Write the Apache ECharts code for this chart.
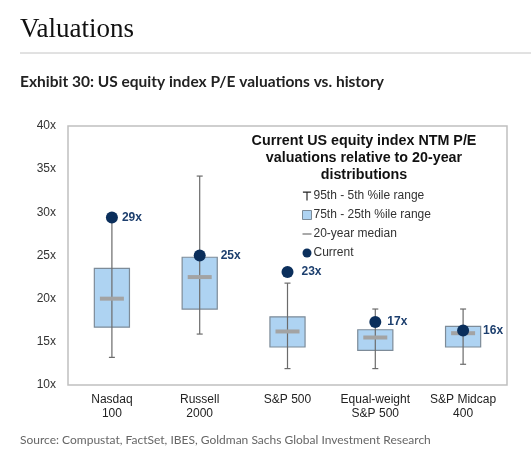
<!DOCTYPE html>
<html>
<head>
<meta charset="utf-8">
<script src="https://cdn.jsdelivr.net/npm/echarts@6/dist/echarts.min.js"></script>
<style>
  html, body { margin: 0; padding: 0; background: #fff; }
  #chart { width: 531px; height: 459px; }
</style>
</head>
<body>
<div id="chart"></div>
<script>
// 指数名称
var categories = ["Nasdaq\n100", "Russell\n2000", "S&P 500", "Equal-weight\nS&P 500", "S&P Midcap\n400"];
// 95th - 5th 分位
var p5 = [13.2, 15.9, 11.9, 11.9, 12.4];
var p95 = [29.2, 34.2, 21.8, 18.8, 18.8];
// 25th - 75th 分位
var p25 = [16.7, 18.8, 14.4, 14.0, 14.4];
var p75 = [23.5, 24.8, 17.9, 16.4, 16.8];
// 20年中位数
var median = [20.0, 22.5, 16.2, 15.5, 16.0];
// 当前值
var current = [29.4, 25.0, 23.1, 17.3, 16.3];
var yTicks = [10, 15, 20, 25, 30, 35, 40];

var boxFill = "#aed3f2";
var boxBorder = "#7d8b98";
var navy = "#0b2f5c";
var font = "Liberation Sans, Arial, sans-serif";
// 标签与圆点的距离(避开箱体)
var labelGap = [4, 15, 8, 6, 14];

var myChart = echarts.init(document.getElementById("chart"));

var whiskerData = [], boxData = [], medianData = [], currentData = [];
for (var i = 0; i < categories.length; i++) {
    whiskerData.push([i, p5[i], p95[i]]);
    boxData.push([i, p25[i], p75[i]]);
    medianData.push([i, median[i]]);
    currentData.push({ value: [i, current[i]], label: { distance: labelGap[i] } });
}

var option = {
    animation: false,
    textStyle: { fontFamily: font },
    title: [{
        text: "Valuations",
        left: 20, top: 16, padding: 0,
        textStyle: { fontFamily: "Liberation Serif, serif", fontSize: 27, fontWeight: "normal", color: "#111" }
    }, {
        text: "Exhibit 30: US equity index P/E valuations vs. history",
        left: 20, top: 74, padding: 0,
        textStyle: { fontFamily: "Lato, sans-serif", fontSize: 15.5, fontWeight: "bold", color: "#222" }
    }, {
        text: "Current US equity index NTM P/E\nvaluations relative to 20-year\ndistributions",
        left: 364, top: 133, padding: 0, textAlign: "center",
        textStyle: { fontFamily: font, fontSize: 14.3, fontWeight: "bold", color: "#111", lineHeight: 16.8 }
    }, {
        text: "Source: Compustat, FactSet, IBES, Goldman Sachs Global Investment Research",
        left: 20, top: 434, padding: 0,
        textStyle: { fontFamily: "Lato, sans-serif", fontSize: 12, fontWeight: "normal", color: "#666" }
    }],
    graphic: [{
        type: "line",
        shape: { x1: 20, y1: 53, x2: 531, y2: 53 },
        style: { stroke: "#c4c4c4", lineWidth: 1 }
    }],
    legend: {
        orient: "vertical",
        left: 302, top: 190, padding: 0,
        itemWidth: 9, itemHeight: 9, itemGap: 7,
        selectedMode: false,
        textStyle: { fontFamily: font, fontSize: 12, color: "#333", padding: [0, 0, 0, -3] },
        data: [{
            name: "95th - 5th %ile range",
            icon: "path://M0,0 L10,0 L10,1.4 L5.7,1.4 L5.7,11 L4.3,11 L4.3,1.4 L0,1.4 Z",
            itemStyle: { color: "#222", borderWidth: 0 }
        }, {
            name: "75th - 25th %ile range",
            icon: "rect",
            itemStyle: { color: boxFill, borderColor: boxBorder, borderWidth: 1 }
        }, {
            name: "20-year median",
            icon: "path://M0,0 L10,0 L10,1.6 L0,1.6 Z",
            itemStyle: { color: "#888", borderWidth: 0 }
        }, {
            name: "Current",
            icon: "circle",
            itemStyle: { color: navy, borderWidth: 0 }
        }]
    },
    grid: {
        left: 68, top: 126, width: 439, height: 259,
        show: true, borderColor: "#c0c0c0", borderWidth: 1.5, backgroundColor: "#fff"
    },
    xAxis: {
        type: "category",
        data: categories,
        boundaryGap: true,
        axisLine: { show: false },
        axisTick: { show: false },
        axisLabel: { color: "#222", fontSize: 12, lineHeight: 14, margin: 8, interval: 0 }
    },
    yAxis: {
        type: "value",
        min: yTicks[0], max: yTicks[yTicks.length - 1], interval: 5,
        axisLine: { show: false },
        axisTick: { show: false },
        splitLine: { show: false },
        axisLabel: { color: "#333", fontSize: 12, margin: 12, formatter: "{value}x" }
    },
    series: [{
        name: "75th - 25th %ile range",
        type: "custom",
        z: 2,
        itemStyle: { color: boxFill },
        data: boxData,
        renderItem: function (params, api) {
            var top = api.coord([api.value(0), api.value(2)]);
            var bot = api.coord([api.value(0), api.value(1)]);
            var w = api.size([1, 0])[0] * 0.4;
            return {
                type: "rect",
                shape: { x: top[0] - w / 2, y: top[1], width: w, height: bot[1] - top[1] },
                style: { fill: boxFill, stroke: boxBorder, lineWidth: 1.2 }
            };
        }
    }, {
        name: "95th - 5th %ile range",
        type: "custom",
        z: 3,
        itemStyle: { color: "#222" },
        data: whiskerData,
        renderItem: function (params, api) {
            var lo = api.coord([api.value(0), api.value(1)]);
            var hi = api.coord([api.value(0), api.value(2)]);
            var c = 3;
            var st = { stroke: "#6b6b6b", lineWidth: 1.2 };
            return {
                type: "group",
                children: [
                    { type: "line", shape: { x1: lo[0], y1: lo[1], x2: hi[0], y2: hi[1] }, style: st },
                    { type: "line", shape: { x1: lo[0] - c, y1: lo[1], x2: lo[0] + c, y2: lo[1] }, style: st },
                    { type: "line", shape: { x1: hi[0] - c, y1: hi[1], x2: hi[0] + c, y2: hi[1] }, style: st }
                ]
            };
        }
    }, {
        name: "20-year median",
        type: "custom",
        z: 4,
        itemStyle: { color: "#a3a3a3" },
        data: medianData,
        renderItem: function (params, api) {
            var p = api.coord([api.value(0), api.value(1)]);
            var w = 24;
            return {
                type: "rect",
                shape: { x: p[0] - w / 2, y: p[1] - 2, width: w, height: 4 },
                style: { fill: "#a3a3a3" }
            };
        }
    }, {
        name: "Current",
        type: "scatter",
        z: 5,
        symbolSize: 12,
        itemStyle: { color: navy, opacity: 1 },
        data: currentData,
        label: {
            show: true,
            position: "right",
            color: "#1d3f6e",
            fontSize: 12,
            fontWeight: "bold",
            formatter: function (p) { return Math.round(p.value[1]) + "x"; }
        }
    }]
};

myChart.setOption(option);
</script>
</body>
</html>
